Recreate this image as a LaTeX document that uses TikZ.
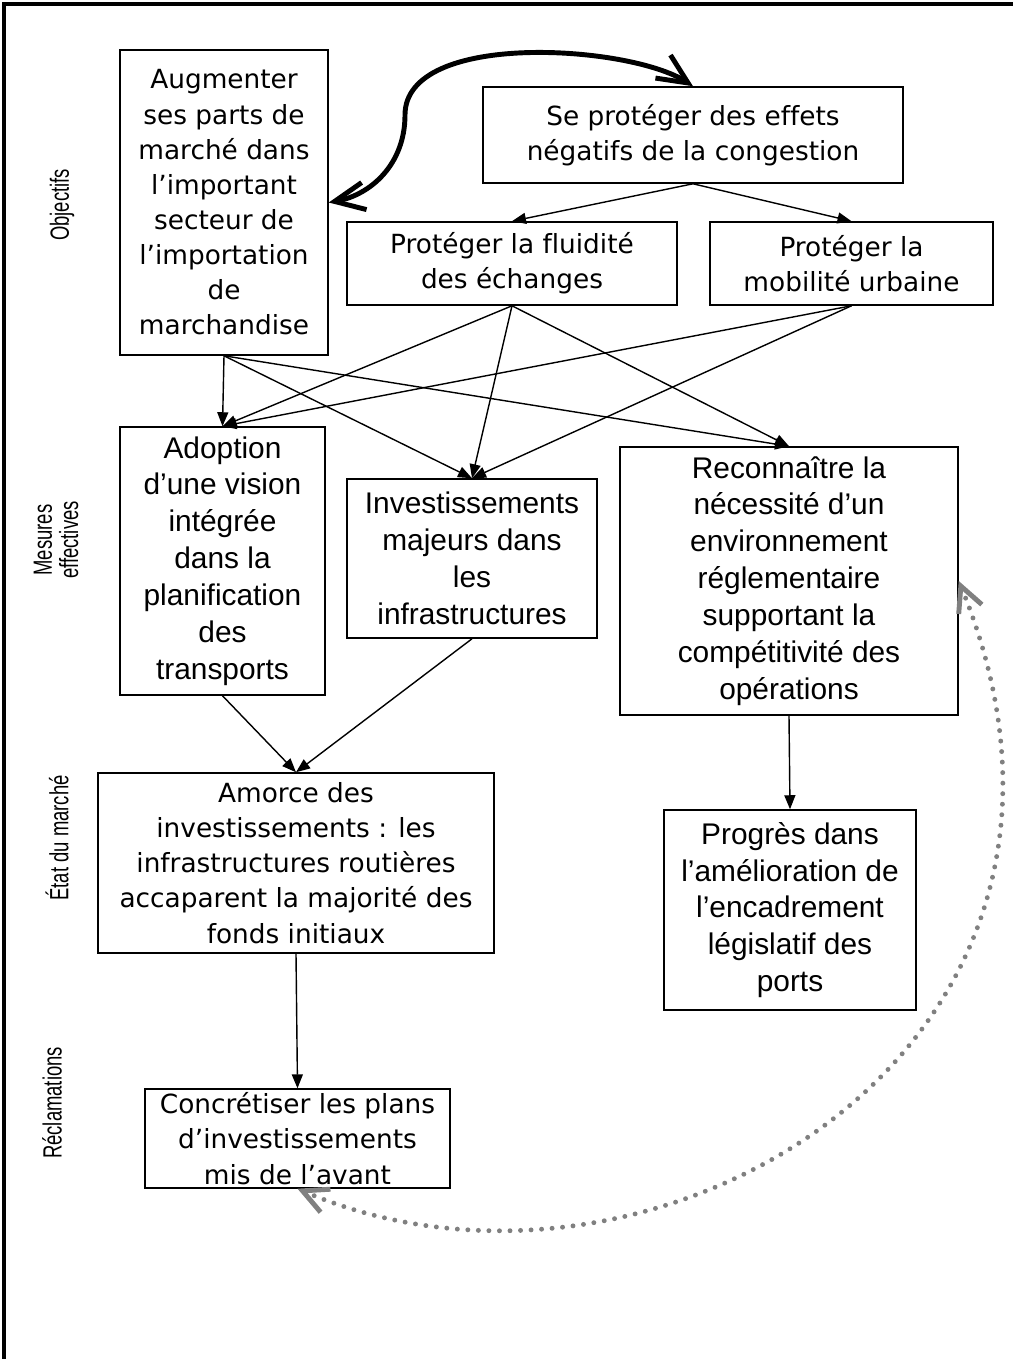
\documentclass[tikz,border=0pt]{standalone}
\usepackage{fontspec}
\setmainfont{Liberation Sans}
\newfontfamily\tahoma{DejaVu Sans}[Ligatures=NoCommon]
\newfontfamily\etroit{Liberation Sans}[FakeStretch=0.7]
\usetikzlibrary{arrows.meta}
\tikzset{
  boite/.style={draw, line width=0.9pt, align=center, inner sep=2pt},
  ta/.style={font=\tahoma\fontsize{15}{20}\selectfont},
  ar/.style={font=\fontsize{17}{21}\selectfont},
  fl/.style={-{Triangle[length=2.8mm,width=2.2mm]}, line width=0.8pt},
  lat/.style={rotate=90, align=center, font=\etroit\fontsize{15}{15}\selectfont}
}

\begin{document}
\begin{tikzpicture}[x=0.02cm,y=-0.02cm]
  \useasboundingbox (0,0) rectangle (1013,1359);
  \draw[line width=2.2pt] (4,1359) -- (4,4) -- (1013,4);

  \node[lat] (Obj) at (62,205) {Objectifs};
  \node[lat] (Mes) at (56,540) {Mesures\\effectives};
  \node[lat] (Etat) at (57,838) {État du marché};
  \node[lat] (Recl) at (52,1103) {Réclamations};

  \node[boite,ta,minimum width=4.16cm,minimum height=6.1cm] (Aug) at (224,202.5)
    {Augmenter\\ses parts de\\marché dans\\l’important\\secteur de\\l’importation\\de\\marchandise};
  \node[boite,ta,minimum width=8.4cm,minimum height=1.92cm] (Cong) at (693,135)
    {Se protéger des effets\\négatifs de la congestion};
  \node[boite,ta,minimum width=6.6cm,minimum height=1.66cm] (Flu) at (512,263.5)
    {Protéger la fluidité\\des échanges};
  \node[boite,ta,minimum width=5.66cm,minimum height=1.66cm] (Mob) at (851.5,263.5)
    {Protéger la\\mobilité urbaine};

  \node[boite,ar,minimum width=4.1cm,minimum height=5.36cm] (Adop) at (222.5,561)
    {Adoption\\d’une vision\\intégrée\\dans la\\planification\\des\\transports};
  \node[boite,ar,minimum width=5cm,minimum height=3.18cm] (Inv) at (472,558.5)
    {Investissements\\majeurs dans\\les\\infrastructures};
  \node[boite,ar,minimum width=6.76cm,minimum height=5.36cm] (Regl) at (789,581)
    {Reconnaître la\\nécessité d’un\\environnement\\réglementaire\\supportant la\\compétitivité des\\opérations};

  \node[boite,ta,minimum width=7.92cm,minimum height=3.6cm] (Amor) at (296,863)
    {Amorce des\\investissements : les\\infrastructures routières\\accaparent la majorité des\\fonds initiaux};
  \node[boite,ar,minimum width=5.04cm,minimum height=4cm] (Prog) at (790,910)
    {Progrès dans\\l’amélioration de\\l’encadrement\\législatif des\\ports};

  \node[boite,ta,minimum width=6.1cm,minimum height=1.82cm] (Conc) at (297.5,1138.5)
    {Concrétiser les plans\\d’investissements\\mis de l’avant};

  \draw[fl] (Cong.south) -- (Flu.north);
  \draw[fl] (Cong.south) -- (Mob.north);
  \draw[fl] (Aug.south) -- (Adop.north);
  \draw[fl] (Aug.south) -- (Inv.north);
  \draw[fl] (Aug.south) -- (Regl.north);
  \draw[fl] (Flu.south) -- (Adop.north);
  \draw[fl] (Flu.south) -- (Inv.north);
  \draw[fl] (Flu.south) -- (Regl.north);
  \draw[fl] (Mob.south) -- (Adop.north);
  \draw[fl] (Mob.south) -- (Inv.north);
  \draw[fl] (Adop.south) -- (Amor.north);
  \draw[fl] (Inv.south) -- (Amor.north);
  \draw[fl] (Regl.south) -- (Prog.north);
  \draw[fl] (Amor.south) -- (Conc.north);

  \coordinate (pli) at (405,115);
  \draw[line width=2.8pt, {Straight Barb[length=6mm,width=5.5mm]}-{Straight Barb[length=6mm,width=5.5mm]}]
    (Aug.east) .. controls (370,195) and (405,165) .. (pli)
    .. controls (405,30) and (630,45) .. (Cong.north);

  \draw[gray, line width=2.8pt, line cap=round, dash pattern=on 0pt off 6pt,
        {Straight Barb[length=5mm,width=5mm,line width=2.8pt]}-{Straight Barb[length=5mm,width=5mm,line width=2.8pt]}]
    (Regl.east) .. controls (1150,1050) and (650,1340) .. (Conc.south);
\end{tikzpicture}
\end{document}
